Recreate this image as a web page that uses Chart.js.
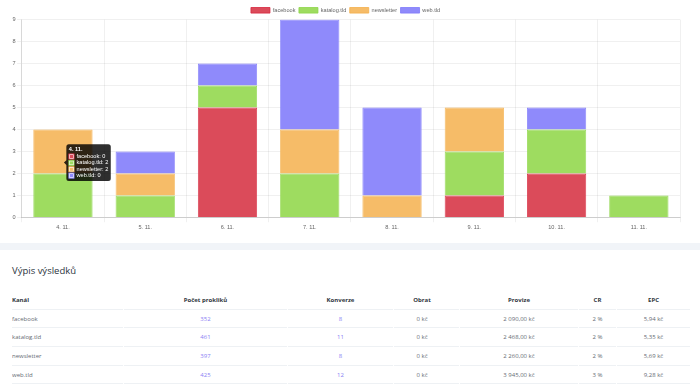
<!DOCTYPE html>
<html>
<head>
<meta charset="utf-8">
<script src="https://cdn.jsdelivr.net/npm/chart.js@4/dist/chart.umd.min.js"></script>
<style>
html,body{margin:0;padding:0;background:#fff;width:700px;height:390px;overflow:hidden;font-family:"Open Sans",sans-serif;}
#chartBox{position:absolute;left:0;top:0;width:700px;height:232px;}
#band{position:absolute;left:0;top:243px;width:700px;height:7px;background:#f1f4f8;}
h2{position:absolute;left:12px;top:264px;margin:0;font-size:9.5px;font-weight:400;color:#2b3440;line-height:14px;}
table{position:absolute;left:11px;top:291px;border-collapse:separate;border-spacing:1px 0;table-layout:fixed;font-size:6px;width:680px;}
td,th{padding:0;height:17.7px;border-bottom:1px solid #eef1f4;text-align:center;vertical-align:middle;white-space:nowrap;overflow:hidden;}
th{font-weight:700;color:#2f3640;}
td{color:#666b73;}
td.l,th.l{text-align:left;}
td.num{color:#8a80f4;}
.ob{padding-right:9px;}
</style>
</head>
<body>
<div id="chartBox"><canvas id="c"></canvas></div>
<div id="band"></div>
<h2>Výpis výsledků</h2>
<table id="tbl">
<colgroup><col style="width:111px"><col style="width:163px"><col style="width:105px"><col style="width:65px"><col style="width:118px"><col style="width:37px"><col style="width:73px"></colgroup>
<thead><tr id="hdr"></tr></thead>
<tbody id="body"></tbody>
</table>
<script>
// Chart data
const categories = ['4. 11.', '5. 11.', '6. 11.', '7. 11.', '8. 11.', '9. 11.', '10. 11.', '11. 11.'];
const seriesNames = ['facebook', 'katalog.tld', 'newsletter', 'web.tld'];
const facebook   = [0, 0, 5, 0, 0, 1, 2, 0];
const katalog    = [2, 1, 1, 2, 0, 2, 2, 1];
const newsletter = [2, 1, 0, 2, 1, 2, 0, 0];
const web        = [0, 1, 1, 5, 4, 0, 1, 0];
const yMin = 0, yMax = 9, yStep = 1;

// Table data
const tableHeaders = ['Kanál', 'Počet prokliků', 'Konverze', 'Obrat', 'Provize', 'CR', 'EPC'];
const channels    = ['facebook', 'katalog.tld', 'newsletter', 'web.tld'];
const clicks      = [352, 461, 397, 425];
const conversions = [8, 11, 8, 12];
const turnover    = ['0 kč', '0 kč', '0 kč', '0 kč'];
const commission  = ['2 090,00 kč', '2 468,00 kč', '2 260,00 kč', '3 945,00 kč'];
const crRates     = ['2 %', '2 %', '2 %', '3 %'];
const epc         = ['5,94 kč', '5,35 kč', '5,69 kč', '9,28 kč'];

// build table
const hdr = document.getElementById('hdr');
tableHeaders.forEach((h, i) => {
  const th = document.createElement('th');
  th.textContent = h;
  if (i === 0) th.className = 'l';
  if (i === 3) th.className = 'ob';
  hdr.appendChild(th);
});
const body = document.getElementById('body');
channels.forEach((ch, r) => {
  const tr = document.createElement('tr');
  const cells = [ch, clicks[r], conversions[r], turnover[r], commission[r], crRates[r], epc[r]];
  cells.forEach((v, i) => {
    const td = document.createElement('td');
    td.textContent = v;
    if (i === 0) td.className = 'l';
    if (i === 1 || i === 2) td.className = 'num';
    if (i === 3) td.className = 'ob';
    tr.appendChild(td);
  });
  body.appendChild(tr);
});

// Chart
const fillColors   = ['#DB4B5A', '#9EDC60', '#F6BC68', '#8F8AFB'];
const borderColors = ['#D7263D', '#8ED64A', '#F4B04C', '#7F7AFA'];
const seriesData = [facebook, katalog, newsletter, web];

Chart.defaults.font.family = '"Liberation Sans", Arial, Helvetica, sans-serif';
Chart.defaults.font.size = 5.6;
Chart.defaults.color = '#666';

Chart.Tooltip.positioners.v2avg = function(items) {
  if (!items.length) return false;
  let x = 0, y = 0;
  items.forEach(it => { x += it.element.x; y += it.element.y; });
  return {x: x / items.length, y: y / items.length};
};

const legendShrink = {
  id: 'legendShrink',
  afterInit(chart) {
    const lg = chart.legend;
    if (!lg) return;
    const fit = lg.fit;
    lg.fit = function() { fit.call(this); this.height -= 3.5; };
  }
};

const gridColor = 'rgba(0,0,0,0.06)';
const chart = new Chart(document.getElementById('c'), {
  type: 'bar',
  data: {
    labels: categories,
    datasets: seriesNames.map((n, i) => ({
      label: n,
      data: seriesData[i],
      backgroundColor: fillColors[i],
      borderColor: borderColors[i],
      borderWidth: 0.8
    }))
  },
  plugins: [legendShrink],
  options: {
    responsive: true,
    maintainAspectRatio: false,
    animation: false,
    layout: {padding: {left: 11, right: 20, top: 4, bottom: 0}},
    plugins: {
      legend: {
        labels: {boxWidth: 19, boxHeight: 5.6, padding: 3.5, font: {size: 5.6}, color: '#666'}
      },
      tooltip: {
        mode: 'index', intersect: false, position: 'v2avg',
        backgroundColor: 'rgba(0,0,0,0.82)',
        titleFont: {size: 5.6, weight: 'bold', lineHeight: 1.1}, bodyFont: {size: 5.6, lineHeight: 1.1},
        padding: {left: 2.5, right: 2.5, top: 2.2, bottom: 2.2}, caretSize: 2.4, cornerRadius: 2.5, caretPadding: 1,
        titleMarginBottom: 0.8, bodySpacing: 0.2, boxWidth: 5.2, boxHeight: 5.2, boxPadding: 0.5,
        multiKeyBackground: '#fff'
      }
    },
    scales: {
      x: {
        stacked: true,
        grid: {color: gridColor, tickLength: 4.7, offset: true},
        border: {color: 'rgba(0,0,0,0.15)'},
        ticks: {padding: 1.5, font: {size: 5.6}, color: '#666'}
      },
      y: {
        stacked: true, min: yMin, max: yMax,
        grid: {color: gridColor, tickLength: 4.7},
        border: {color: 'rgba(0,0,0,0.1)'},
        ticks: {stepSize: yStep, padding: 1.5, font: {size: 5.6}, color: '#666'}
      }
    }
  }
});

chart.tooltip.setActiveElements(seriesNames.map((n, i) => ({datasetIndex: i, index: 0})), {x: 63, y: 161});
chart.update();
</script>
</body>
</html>
